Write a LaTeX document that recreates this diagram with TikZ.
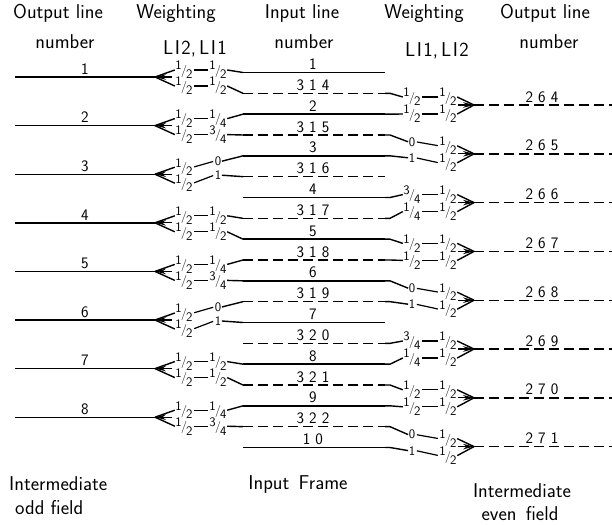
\documentclass[tikz,border=0pt]{standalone}
\usetikzlibrary{arrows.meta}
% stacked fraction used for the weights
\newcommand\fr[2]{\raisebox{4.4pt}{#1}\kern-0.8pt{\fontsize{12}{12}\selectfont/}\kern-0.8pt\raisebox{-4.4pt}{#2}}
% wide spacing between the digits of a line number
\newcommand\dgap{\kern5pt}
\tikzset{
  ln/.style={line width=1.4pt},
  dsh/.style={line width=1.4pt, dash pattern=on 10pt off 5pt},
  head/.style={font=\fontsize{20}{24}\selectfont\sffamily, anchor=base, inner sep=0pt},
  num/.style={font=\fontsize{16}{18}\selectfont\sffamily, anchor=south, inner sep=1pt},
  wt/.style={font=\fontsize{13}{13}\selectfont\sffamily, inner sep=0.5pt},
  link/.style={line width=1.2pt, shorten <=1pt, shorten >=1pt},
  tip/.style={line width=1.3pt, -{Stealth[length=11pt,width=5.5pt]}},
}
\begin{document}
\begin{tikzpicture}[x=1pt,y=-1pt]
\fill[white] (0,0) rectangle (612,524);
\path[use as bounding box] (0,0) rectangle (612,524);

% column headings
\node[head] (h1a) at (58,19) {Output line};
\node[head] (h1b) at (65,49) {number};
\node[head] (h2a) at (176,19) {Weighting};
\node[head] (h2b) at (195,55) {L\kern1.5pt I\kern1.5pt 2,\kern3pt L\kern1.5pt I\kern1.5pt 1};
\node[head] (h3a) at (302,19) {Input line};
\node[head] (h3b) at (304,49) {number};
\node[head] (h4a) at (424,19) {Weighting};
\node[head] (h4b) at (437,57) {L\kern1.5pt I\kern1.5pt 1,\kern3pt L\kern1.5pt I\kern1.5pt 2};
\node[head] (h5a) at (545,19) {Output line};
\node[head] (h5b) at (549,49) {number};

% field captions
\node[head, anchor=base west] (f1) at (9,490) {Intermediate};
\node[head, anchor=base west] (f2) at (15,514) {odd field};
\node[head] (f3) at (298,489) {Input\hspace{3pt} Frame};
\node[head] (f4) at (522,497) {Intermediate};
\node[head] (f5) at (520,520) {even\hspace{3pt} field};

% input frame: odd-field lines (solid)
\foreach \n/\k/\lab in {1/0/1, 2/2/2, 3/4/3, 4/6/4, 5/8/5, 6/10/6, 7/12/7, 8/14/8, 9/16/9, 10/18/{1\dgap0}}{
  \pgfmathsetmacro\yy{72.5+20.833*\k}
  \coordinate (s\n) at (243,\yy);
  \coordinate (e\n) at (385,\yy);
  \draw[ln] (s\n) -- (e\n);
  \node[num] (n\n) at (313,\yy-1.5) {\lab};
}
% input frame: even-field lines (dashed)
\foreach \n/\k/\lab in {314/1/{3\dgap1\dgap4}, 315/3/{3\dgap1\dgap5}, 316/5/{3\dgap1\dgap6},
  317/7/{3\dgap1\dgap7}, 318/9/{3\dgap1\dgap8}, 319/11/{3\dgap1\dgap9},
  320/13/{3\dgap2\dgap0}, 321/15/{3\dgap2\dgap1}, 322/17/{3\dgap2\dgap2}}{
  \pgfmathsetmacro\yy{72.5+20.833*\k}
  \coordinate (s\n) at (243,\yy);
  \coordinate (e\n) at (385,\yy);
  \draw[dsh] (s\n) -- (e\n);
  \node[num] (n\n) at (313,\yy-1.5) {\lab};
}

% intermediate odd field (left)
\foreach \j/\yo/\wu/\wl/\du/\dl/\pu/\pl in {
  1/77/{\fr12}/{\fr12}/-7/9/1/314,
  2/125.6/{\fr14}/{\fr34}/-7/9/2/315,
  3/174.2/0/1/-13/1/3/316,
  4/222.8/{\fr12}/{\fr12}/-7/9/317/5,
  5/271.4/{\fr14}/{\fr34}/-7/9/318/6,
  6/320/0/1/-13/1/319/7,
  7/368.6/{\fr12}/{\fr12}/-7/9/8/321,
  8/417.2/{\fr14}/{\fr34}/-7/9/9/322}{
  \coordinate (os\j) at (15,\yo);
  \coordinate (ot\j) at (155,\yo);
  \coordinate (ob\j) at (172,\yo);
  \node[num] (o\j) at (85,\yo-1.5) {\j};
  \node[wt] (pu\j) at (184,\yo-7) {\fr12};
  \node[wt] (pl\j) at (184,\yo+9) {\fr12};
  \node[wt] (qu\j) at (218,\yo+\du) {\wu};
  \node[wt] (ql\j) at (218,\yo+\dl) {\wl};
  \draw[ln] (os\j) -- (ot\j);
  \draw[tip] (ob\j) -- (ot\j);
  \draw[ln] (pu\j.west) -- (ot\j);
  \draw[ln] (pl\j.west) -- (ot\j);
  \draw[link] (pu\j.east) -- (qu\j.west);
  \draw[link] (pl\j.east) -- (ql\j.west);
  \draw[ln] (qu\j.east) -- (s\pu);
  \draw[ln] (ql\j.east) -- (s\pl);
}

% intermediate even field (right)
\foreach \j/\lab/\yo/\wu/\wl/\du/\dl/\pu/\pl in {
  1/{2\dgap6\dgap4}/105/{\fr12}/{\fr12}/-8/9/314/2,
  2/{2\dgap6\dgap5}/153.8/0/1/-12/4/315/3,
  3/{2\dgap6\dgap6}/202.6/{\fr34}/{\fr14}/-8/9/4/317,
  4/{2\dgap6\dgap7}/251.4/{\fr12}/{\fr12}/-8/9/5/318,
  5/{2\dgap6\dgap8}/300.2/0/1/-12/4/6/319,
  6/{2\dgap6\dgap9}/349/{\fr34}/{\fr14}/-8/9/320/8,
  7/{2\dgap7\dgap0}/397.8/{\fr12}/{\fr12}/-8/9/321/9,
  8/{2\dgap7\dgap1}/446.6/0/1/-12/4/322/10}{
  \coordinate (rb\j) at (458,\yo);
  \coordinate (rt\j) at (474,\yo);
  \coordinate (re\j) at (612,\yo);
  \node[wt] (ru\j) at (412,\yo+\du) {\wu};
  \node[wt] (rl\j) at (412,\yo+\dl) {\wl};
  \node[wt] (vu\j) at (448,\yo-8) {\fr12};
  \node[wt] (vl\j) at (448,\yo+9) {\fr12};
  \node[num] (r\j) at (542,\yo-1.5) {\lab};
  \draw[ln] (e\pu) -- ++(5,0) -- (ru\j.west);
  \draw[ln] (e\pl) -- ++(5,0) -- (rl\j.west);
  \draw[link] (ru\j.east) -- (vu\j.west);
  \draw[link] (rl\j.east) -- (vl\j.west);
  \draw[ln] (vu\j.east) -- (rt\j);
  \draw[ln] (vl\j.east) -- (rt\j);
  \draw[tip] (rb\j) -- (rt\j);
  \draw[dsh] (rt\j) -- (re\j);
}
\end{tikzpicture}
\end{document}
